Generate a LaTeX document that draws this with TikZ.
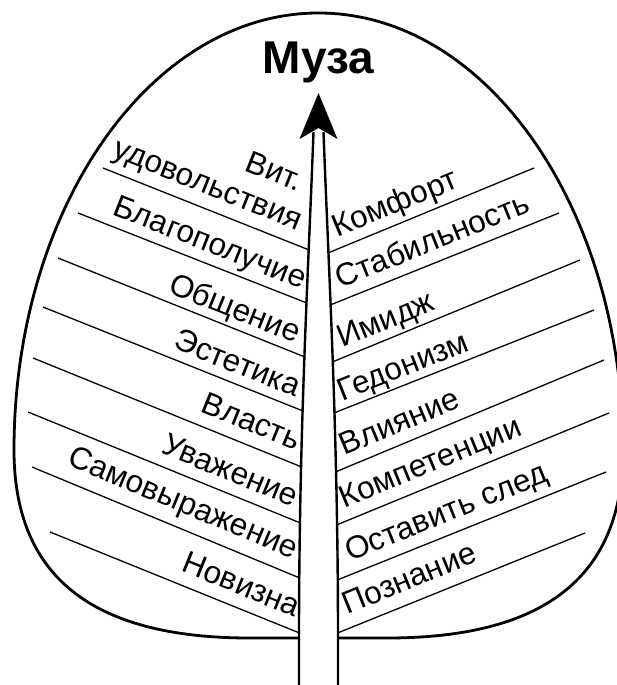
\documentclass[tikz,border=0pt]{standalone}
\usepackage{fontspec}
\setmainfont{Liberation Sans}
\begin{document}
\begin{tikzpicture}[x=1pt,y=-1pt,
  outline/.style={line width=2.8pt, line join=round},
  stemline/.style={line width=2.4pt},
  vein/.style={line width=1.3pt},
  lab/.style={font=\fontsize{31.5}{36}\selectfont, inner sep=0pt, outer sep=0pt, sloped},
  muza/.style={font=\fontsize{46}{52}\selectfont\bfseries, inner sep=0pt}]
\useasboundingbox (0,0) rectangle (617,685);
\fill[white] (0,0) rectangle (617,685);
% left veins
\coordinate (ls1) at (103,168);  \coordinate (le1) at (309.2,250);
\coordinate (ls2) at (78,213);   \coordinate (le2) at (306.9,303);
\coordinate (ls3) at (58,258);   \coordinate (le3) at (304.9,357);
\coordinate (ls4) at (43,307);   \coordinate (le4) at (303.1,411);
\coordinate (ls5) at (33,358);   \coordinate (le5) at (301.7,467);
\coordinate (ls6) at (28,412);   \coordinate (le6) at (300.5,523);
\coordinate (ls7) at (32,467);   \coordinate (le7) at (299.8,578);
\coordinate (ls8) at (50,532);   \coordinate (le8) at (299.5,633);
% right veins
\coordinate (rs1) at (534,168);  \coordinate (re1) at (327.9,253);
\coordinate (rs2) at (559,213);  \coordinate (re2) at (330.2,305);
\coordinate (rs3) at (580,260);  \coordinate (re3) at (332.3,362);
\coordinate (rs4) at (594,310);  \coordinate (re4) at (333.9,413);
\coordinate (rs5) at (604,360);  \coordinate (re5) at (335.4,472);
\coordinate (rs6) at (609,413);  \coordinate (re6) at (336.5,525);
\coordinate (rs7) at (606,472);  \coordinate (re7) at (337.2,580);
\coordinate (rs8) at (585,533);  \coordinate (re8) at (337.5,633);
\foreach \i in {1,...,8}{
  \draw[vein] (ls\i) -- (le\i);
  \draw[vein] (re\i) -- (rs\i);
}
% left labels
\path (ls1) -- (le1) node[lab, pos=1, anchor=base east] (lt0) {\raisebox{50pt}{Вит.}\kern32pt};
\path (ls1) -- (le1) node[lab, pos=1, anchor=base east] (lt1) {\raisebox{14pt}{удовольствия}\kern18pt};
\path (ls2) -- (le2) node[lab, pos=1, anchor=base east] (lt2) {\raisebox{11pt}{Благополучие}\kern10pt};
\path (ls3) -- (le3) node[lab, pos=1, anchor=base east] (lt3) {\raisebox{9pt}{Общение}\kern14pt};
\path (ls4) -- (le4) node[lab, pos=1, anchor=base east] (lt4) {\raisebox{10pt}{Эстетика}\kern12pt};
\path (ls5) -- (le5) node[lab, pos=1, anchor=base east] (lt5) {\raisebox{13pt}{Власть}\kern12pt};
\path (ls6) -- (le6) node[lab, pos=1, anchor=base east] (lt6) {\raisebox{12pt}{Уважение}\kern13pt};
\path (ls7) -- (le7) node[lab, pos=1, anchor=base east] (lt7) {\raisebox{15pt}{Самовыражение}\kern14pt};
\path (ls8) -- (le8) node[lab, pos=1, anchor=base east] (lt8) {\raisebox{13pt}{Новизна}\kern10pt};
% right labels
\path (re1) -- (rs1) node[lab, pos=0, anchor=base west] (rt1) {\kern15pt\raisebox{10.5pt}{Комфорт}};
\path (re2) -- (rs2) node[lab, pos=0, anchor=base west] (rt2) {\kern16pt\raisebox{11.5pt}{Стабильность}};
\path (re3) -- (rs3) node[lab, pos=0, anchor=base west] (rt3) {\kern15pt\raisebox{9pt}{Имидж}};
\path (re4) -- (rs4) node[lab, pos=0, anchor=base west] (rt4) {\kern12pt\raisebox{8pt}{Гедонизм}};
\path (re5) -- (rs5) node[lab, pos=0, anchor=base west] (rt5) {\kern15pt\raisebox{11.5pt}{Влияние}};
\path (re6) -- (rs6) node[lab, pos=0, anchor=base west] (rt6) {\kern14pt\raisebox{12.5pt}{Компетенции}};
\path (re7) -- (rs7) node[lab, pos=0, anchor=base west] (rt7) {\kern19pt\raisebox{12.5pt}{Оставить след}};
\path (re8) -- (rs8) node[lab, pos=0, anchor=base west] (rt8) {\kern16pt\raisebox{13.5pt}{Познание}};
% stem
\draw[stemline] (313.5,132) .. controls (308,280) and (299,430) .. (299,640) -- (299,690);
\draw[stemline] (323.5,132) .. controls (329,280) and (338,430) .. (338,640) -- (338,690);
% leaf outline
\draw[outline] (299,638) -- (250,638) .. controls (110,638) and (14,590) .. (14,450)
  arc[start angle=180, end angle=360, x radius=304.5, y radius=437]
  .. controls (623,590) and (527,638) .. (387,638) -- (338,638);
% arrowhead
\fill (318.5,93) -- (337.5,139) -- (318.5,128) -- (299.5,139) -- cycle;
\node[muza, anchor=base] (muza) at (318.5,74) {Муза};
\end{tikzpicture}
\end{document}
